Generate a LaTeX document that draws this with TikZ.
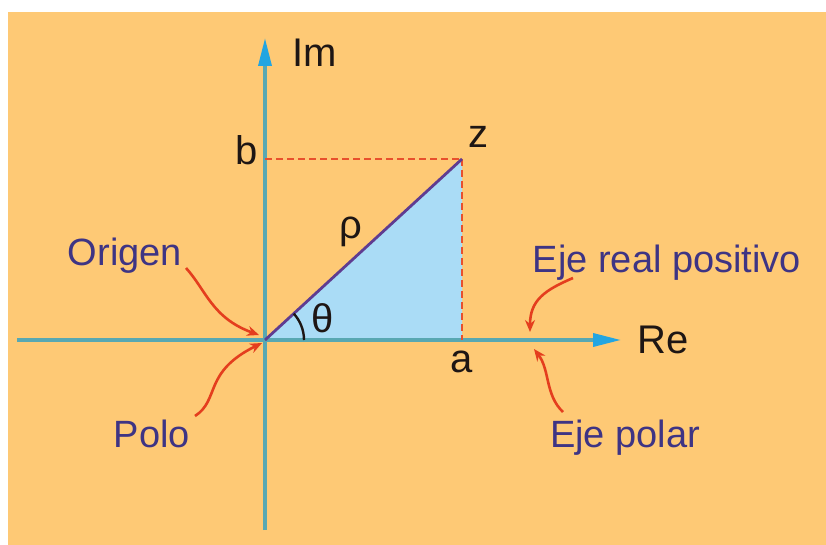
\documentclass[tikz,border=0pt]{standalone}
\usepackage{fontspec}
\setmainfont{Liberation Sans}
\usetikzlibrary{arrows.meta}
\definecolor{bgor}{RGB}{254,201,117}
\definecolor{axisline}{RGB}{88,168,178}
\definecolor{tipblue}{RGB}{35,165,225}
\definecolor{fillblue}{RGB}{170,220,246}
\definecolor{hypo}{RGB}{95,60,145}
\definecolor{dashred}{RGB}{232,80,45}
\definecolor{arrred}{RGB}{228,62,30}
\definecolor{labpurple}{RGB}{62,52,132}
\definecolor{labblack}{RGB}{30,22,20}
\tikzset{
  axisstyle/.style={draw=axisline, line width=3.4pt, -{Triangle[length=28pt,width=13pt,color=tipblue]}},
  dashstyle/.style={draw=dashred, line width=2.4pt, dash pattern=on 7pt off 4pt},
  callout/.style={draw=arrred, line width=2.6pt, -{Stealth[length=12pt,width=10pt]}},
  purplelab/.style={text=labpurple, inner sep=0pt, anchor=base, font=\fontsize{38}{42}\selectfont},
  blacklab/.style={text=labblack, inner sep=0pt, anchor=base, font=\fontsize{40}{46}\selectfont},
  greeklab/.style={text=labblack, inner sep=0pt, anchor=base, font=\fontsize{40}{46}\selectfont}
}
\begin{document}
\begin{tikzpicture}[x=1pt,y=1pt]
\useasboundingbox (0,0) rectangle (826,-545);
\fill[white] (0,0) rectangle (826,-545);
\fill[bgor] (8,-12) rectangle (826,-545);

% key points
\coordinate (O) at (265,-340);
\coordinate (Z) at (462,-159);
\coordinate (A) at (462,-340);
\coordinate (B) at (265,-159);
\coordinate (xl) at (17,-340);
\coordinate (xr) at (621,-340);
\coordinate (yb) at (265,-530);
\coordinate (yt) at (265,-38);

% triangle
\fill[fillblue] (O) -- (Z) -- (A) -- cycle;

% axes
\draw[axisstyle] (xl) -- (xr);
\draw[axisstyle] (yb) -- (yt);

% dashed projections
\draw[dashstyle] (B) -- (Z);
\draw[dashstyle] (Z) -- (A);

% modulus
\draw[hypo, line width=2.8pt] (O) -- (Z);

% angle arc
\draw[labblack, line width=2.4pt] (304,-340) arc[start angle=0, end angle=42.6, radius=39pt];

% labels
\node[blacklab, anchor=base west] (im) at (292,-67) {Im};
\node[blacklab, anchor=base west] (re) at (637,-353) {Re};
\node[blacklab] (lb) at (247,-165) {b};
\node[blacklab] (lz) at (478,-148) {z};
\node[blacklab] (la) at (462,-372) {a};
\node[greeklab] (rho) at (351,-238) {ρ};
\node[greeklab] (theta) at (323,-332) {θ};

\node[purplelab] (origen) at (125,-265) {Origen};
\node[purplelab] (polo) at (152,-447) {Polo};
\node[purplelab] (ejereal) at (667,-272) {Eje real positivo};
\node[purplelab] (ejepolar) at (625,-447) {Eje polar};

% callout arrows
\coordinate (s1) at (186,-268);
\coordinate (t1) at (259,-335);
\coordinate (s2) at (195,-416);
\coordinate (t2) at (262,-343);
\coordinate (s3) at (573,-278);
\coordinate (t3) at (530,-332);
\coordinate (s4) at (563,-412);
\coordinate (t4) at (534,-349);

\draw[callout] (s1) .. controls (206,-290) and (212,-318) .. (t1);
\draw[callout] (s2) .. controls (220,-400) and (203,-372) .. (t2);
\draw[callout] (s3) .. controls (545,-290) and (530,-300) .. (t3);
\draw[callout] (s4) .. controls (545,-395) and (550,-370) .. (t4);
\end{tikzpicture}
\end{document}
